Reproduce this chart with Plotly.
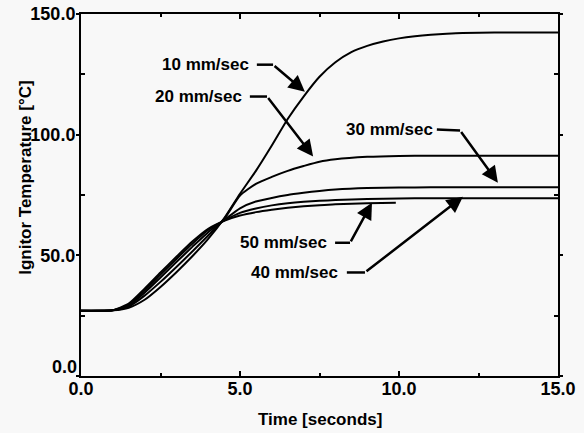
import plotly.graph_objects as go

# ---- data ----
time_10 = [0, 0.5, 1.0, 1.5, 2.0, 2.5, 3.0, 3.5, 4.0, 4.5, 5.0, 5.5, 6.0, 6.5, 7.0, 7.5, 8.0, 8.5, 9.0, 9.5, 10.0, 10.5, 11.0, 11.5, 12.0, 13.0, 15.0]
temp_10 = [27.0, 27.0, 27.2, 28.3, 31.6, 36.9, 43.0, 49.6, 56.8, 65.3, 75.5, 85.0, 95.5, 106.5, 115.8, 124.0, 130.0, 134.2, 136.8, 138.6, 139.9, 140.8, 141.4, 141.8, 142.1, 142.3, 142.3]

time_std = [0, 0.5, 1.0, 1.5, 2.0, 2.5, 3.0, 3.5, 4.0, 4.5, 5.0, 5.5, 6.0, 6.5, 7.0, 7.5, 8.0, 9.0, 10.0, 11.0, 12.0, 13.0, 15.0]
temp_20 = [27.0, 27.0, 27.2, 28.8, 33.3, 39.0, 45.2, 51.6, 58.2, 65.0, 74.8, 79.6, 82.5, 85.0, 87.0, 88.8, 89.8, 90.8, 91.2, 91.3, 91.3, 91.3, 91.3]
temp_30 = [27.0, 27.0, 27.2, 29.2, 34.5, 40.8, 47.2, 53.5, 59.6, 64.6, 69.5, 72.3, 73.8, 75.0, 75.9, 76.7, 77.3, 77.9, 78.1, 78.2, 78.2, 78.2, 78.2]
temp_40 = [27.0, 27.0, 27.25, 29.6, 35.4, 42.0, 48.5, 54.8, 60.5, 64.4, 67.6, 69.4, 70.7, 71.6, 72.2, 72.6, 72.9, 73.3, 73.6, 73.7, 73.7, 73.7, 73.7]

time_50 = [0, 0.5, 1.0, 1.5, 2.0, 2.5, 3.0, 3.5, 4.0, 4.5, 5.0, 5.5, 6.0, 6.5, 7.0, 7.5, 8.0, 9.0, 9.9]
temp_50 = [27.0, 27.0, 27.3, 30.0, 36.2, 42.9, 49.4, 55.7, 61.0, 64.3, 66.5, 67.9, 68.9, 69.7, 70.3, 70.8, 71.2, 71.6, 71.8]

label_text = ["10 mm/sec", "20 mm/sec", "30 mm/sec", "50 mm/sec", "40 mm/sec"]

x_ticks = [0, 5, 10, 15]
x_tick_labels = ["0.0", "5.0", "10.0", "15.0"]
y_ticks = [0, 50, 100, 150]
y_tick_labels = ["", "50.0", "100.0", "150.0"]

# ---- annotation geometry (label anchor, bend, arrow tip) ----
callouts = [
    dict(start=(5.53, 129.0), bend=(6.04, 129.0), tip=(7.04, 117.8), gap=6),
    dict(start=(5.31, 115.8), bend=(5.85, 115.8), tip=(7.30, 91.0), gap=6),
    dict(start=(11.19, 102.1), bend=(11.92, 101.7), tip=(13.11, 80.1), gap=2),
    dict(start=(7.99, 55.2), bend=(8.46, 55.2), tip=(9.15, 71.8), gap=6),
    dict(start=(8.36, 42.9), bend=(8.93, 42.9), tip=(12.01, 74.3), gap=7),
]

FONT = "Liberation Sans, Arial, sans-serif"
BG = "#f8f8f8"
LBL = dict(family=FONT, size=17, color="black", weight="bold")
TICKF = dict(family=FONT, size=18, color="black", weight="bold")

fig = go.Figure()
series = [(time_10, temp_10), (time_std, temp_20), (time_std, temp_30), (time_std, temp_40), (time_50, temp_50)]
for xs, ys in series:
    fig.add_trace(go.Scatter(x=xs, y=ys, mode="lines",
                             line=dict(color="black", width=2, shape="spline", smoothing=0.6),
                             showlegend=False, hoverinfo="skip"))

annotations = []
for txt, c in zip(label_text, callouts):
    sx, sy = c["start"]
    bx, by = c["bend"]
    tx, ty = c["tip"]
    fig.add_trace(go.Scatter(x=[sx, bx], y=[sy, by], mode="lines",
                             line=dict(color="black", width=2.5),
                             showlegend=False, hoverinfo="skip"))
    annotations.append(dict(x=tx, y=ty, ax=bx, ay=by, xref="x", yref="y", axref="x", ayref="y",
                            text="", showarrow=True, arrowhead=2, arrowsize=1.3, arrowwidth=2.5,
                            arrowcolor="black", standoff=0, startstandoff=0))
    annotations.append(dict(x=sx, y=sy, xref="x", yref="y", text=txt, showarrow=False,
                            xanchor="right", yanchor="middle", xshift=-c["gap"], font=LBL))

# y-axis "0.0" label sits slightly above its tick in the reference
annotations.append(dict(x=0, y=0, xref="paper", yref="y", text="0.0", showarrow=False,
                        xanchor="right", yanchor="middle", xshift=-2, yshift=9, font=TICKF))
# axis titles
annotations.append(dict(x=0.5, y=-0.1215, xref="paper", yref="paper", text="Time [seconds]",
                        showarrow=False, xanchor="center", yanchor="middle", font=LBL))
annotations.append(dict(x=-0.117, y=0.548, xref="paper", yref="paper", text="Ignitor Temperature [°C]",
                        showarrow=False, xanchor="center", yanchor="middle", textangle=-90, font=LBL))

fig.update_layout(
    width=584, height=433,
    margin=dict(l=81, r=26, t=14, b=57, autoexpand=False),
    paper_bgcolor=BG, plot_bgcolor=BG,
    showlegend=False,
    annotations=annotations,
    xaxis=dict(range=[0, 15], tickvals=x_ticks, ticktext=x_tick_labels, automargin=False,
               showgrid=False, zeroline=False, showline=True, linecolor="black", linewidth=2,
               mirror="ticks", ticks="inside", ticklen=5, tickwidth=1.5, tickcolor="black",
               ticklabelstandoff=-5,
               minor=dict(tickvals=[2.5, 7.5, 12.5], ticks="inside", ticklen=3, tickcolor="black", tickwidth=1.5),
               tickfont=TICKF),
    yaxis=dict(range=[0, 150], tickvals=y_ticks, ticktext=y_tick_labels, automargin=False,
               showgrid=False, zeroline=False, showline=True, linecolor="black", linewidth=2,
               mirror="ticks", ticks="outside", ticklen=3, tickwidth=1.5, tickcolor="black",
               ticklabelstandoff=-3,
               minor=dict(tickvals=[25, 75, 125], ticks="inside", ticklen=4, tickcolor="black", tickwidth=1.5),
               tickfont=TICKF),
)

fig.write_html(
    "out.html",
    config={"displayModeBar": False},
    post_script="document.body.style.margin='0';document.body.style.padding='0';"
                "document.body.style.overflow='hidden';document.body.style.background='" + BG + "';",
)
